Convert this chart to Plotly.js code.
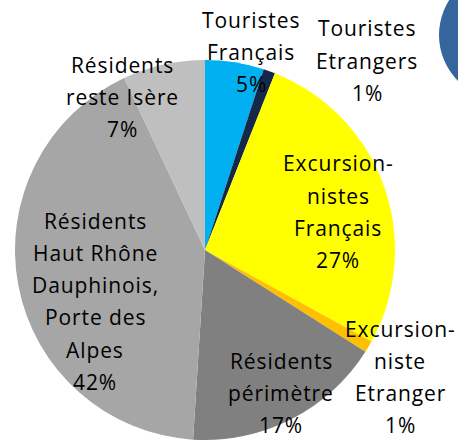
<!DOCTYPE html>
<html>
<head>
<meta charset="utf-8">
<script src="https://cdn.plot.ly/plotly-3.0.1.min.js"></script>
<style>
html,body{margin:0;padding:0;background:#fff;}
#chart{width:458px;height:444px;}
.annotation-text{letter-spacing:0.9px;}
</style>
</head>
<body>
<div id="chart"></div>
<script>
// Data
const categories = ["Touristes Français", "Touristes Etrangers", "Excursionnistes Français",
  "Excursionniste Etranger", "Résidents périmètre",
  "Résidents Haut Rhône Dauphinois, Porte des Alpes", "Résidents reste Isère"];
const values = [5, 1, 27, 1, 17, 42, 7];
const labelLines = [
  ["Touristes", "Français"],
  ["Touristes", "Etrangers"],
  ["Excursion-", "nistes", "Français"],
  ["Excursion-", "niste", "Etranger"],
  ["Résidents", "périmètre"],
  ["Résidents", "Haut Rhône", "Dauphinois,", "Porte des", "Alpes"],
  ["Résidents", "reste Isère"]
];

// Styles / layout
const colors = ["#00B0F0", "#14294A", "#FFFF00", "#FFC000", "#808080", "#A6A6A6", "#BFBFBF"];
const W = 458, H = 444;
// label anchor: centre x, first baseline y (pixels)
const labelPos = [[251, 26], [367, 35], [338, 170], [400, 335], [281, 367], [95, 227], [122, 71]];
const lineStep = 32.3;
const fontSize = 21;

const annotations = [];
categories.forEach((c, i) => {
  const lines = labelLines[i].concat([values[i] + "%"]);
  lines.forEach((ln, j) => {
    const base = labelPos[i][1] + j * lineStep;
    const cy = base - 6.5;
    annotations.push({
      text: ln, showarrow: false, xref: "paper", yref: "paper",
      x: labelPos[i][0] / W, y: 1 - cy / H, xanchor: "center", yanchor: "middle",
      font: {family: "Open Sans, sans-serif", size: fontSize, color: "#000"}
    });
  });
});

const cx = 205, cy = 250, r = 190;
const trace = {
  type: "pie", labels: categories, values: values, sort: false,
  direction: "clockwise", rotation: 0, textinfo: "none", hoverinfo: "none",
  marker: {colors: colors, line: {width: 0}},
  domain: {x: [(cx - r) / W, (cx + r) / W], y: [1 - (cy + r) / H, 1 - (cy - r) / H]},
  showlegend: false
};

const bc = {x: 504, y: 35, r: 65};
const layout = {
  width: W, height: H, margin: {l: 0, r: 0, t: 0, b: 0},
  paper_bgcolor: "#fff", showlegend: false, annotations: annotations,
  shapes: [{type: "circle", xref: "paper", yref: "paper",
    x0: (bc.x - bc.r) / W, x1: (bc.x + bc.r) / W,
    y0: 1 - (bc.y + bc.r) / H, y1: 1 - (bc.y - bc.r) / H,
    fillcolor: "#35659D", line: {width: 0}, layer: "below"}]
};
Plotly.newPlot("chart", [trace], layout, {staticPlot: true, displayModeBar: false});
</script>
</body>
</html>
